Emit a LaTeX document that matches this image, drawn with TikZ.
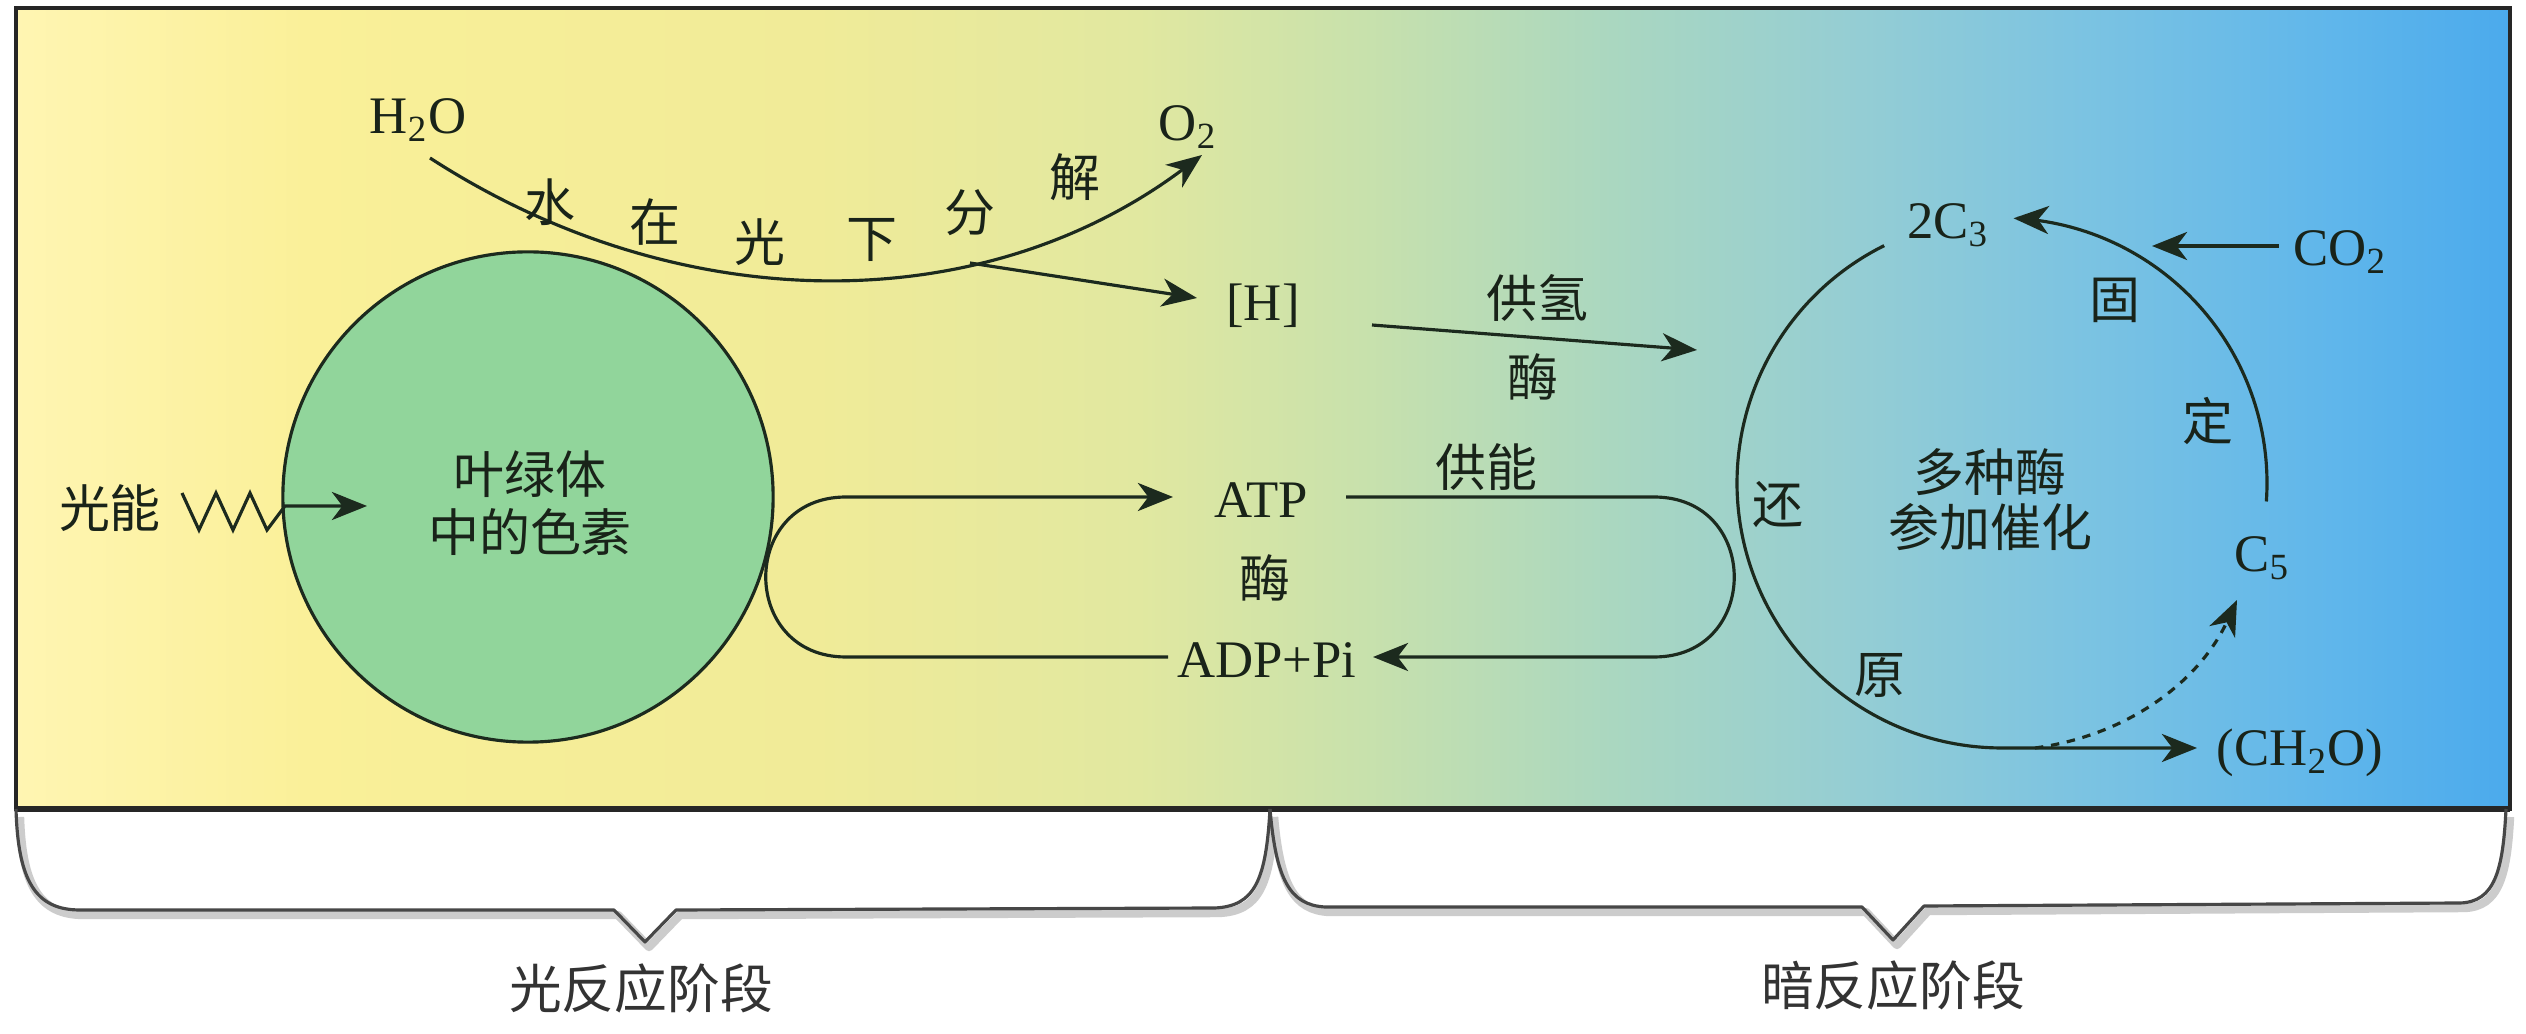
\documentclass[tikz,border=0pt]{standalone}
\usepackage{fontspec}
\setmainfont{Liberation Serif}
\newfontfamily\cjk{Noto Sans CJK SC}
\usetikzlibrary{arrows.meta}
\definecolor{ln}{RGB}{28,42,30}
\definecolor{txt}{RGB}{25,35,25}
\definecolor{g0}{RGB}{255,245,178}
\definecolor{g1}{RGB}{250,240,152}
\definecolor{g2}{RGB}{240,235,152}
\definecolor{g3}{RGB}{225,232,160}
\definecolor{g4}{RGB}{200,225,172}
\definecolor{g5}{RGB}{170,215,192}
\definecolor{g6}{RGB}{148,205,212}
\definecolor{g7}{RGB}{123,195,226}
\definecolor{g8}{RGB}{95,182,235}
\definecolor{g9}{RGB}{75,170,236}
\definecolor{leaf}{RGB}{145,213,155}
\pgfdeclarehorizontalshading{bggrad}{100bp}{color(0bp)=(g0); color(25bp)=(g0); color(31bp)=(g1); color(41bp)=(g2); color(47.5bp)=(g3); color(52bp)=(g4); color(57bp)=(g5); color(62bp)=(g6); color(66.5bp)=(g7); color(71.5bp)=(g8); color(75bp)=(g9); color(100bp)=(g9)}
\begin{document}
\begin{tikzpicture}[x=0.01cm,y=-0.01cm,
  cj/.style={font=\cjk\fontsize{14.5pt}{17pt}\selectfont,text=txt,inner sep=0pt},
  lt/.style={font=\fontsize{15pt}{17pt}\selectfont,text=txt,inner sep=0pt},
  stg/.style={font=\cjk\fontsize{15pt}{17pt}\selectfont,text=black!80,inner sep=0pt},
  conn/.style={draw=ln,line width=0.9pt},
  arr/.style={conn,-{Stealth[length=10pt,width=8pt,inset=3pt]}},
  brace/.style={draw=black!72,line width=0.9pt,line join=round},
  braceshadow/.style={draw=black!20,line width=2.4pt,line join=round}]
\useasboundingbox (0,0) rectangle (2526,1034);
\fill[white] (0,0) rectangle (2526,1034);
\shade[shading=bggrad] (16,8) rectangle (2510,809);
\draw[black!85,line width=1.2pt] (16,8) rectangle (2510,809);
\draw[black!85,line width=1.8pt] (16,809) -- (2510,809);

% chloroplast pigments
\node[circle,draw=ln,line width=0.9pt,fill=leaf,minimum size=4.9cm,inner sep=0pt] (chl) at (528,497) {};
\node[cj] (t1) at (530,474) {叶绿体};
\node[cj] (t2) at (530,532) {中的色素};

% light energy
\node[cj] (light) at (110,508) {光能};
\coordinate (zz) at (182,493);
\coordinate (lighttip) at (367,506);
\draw[arr,line join=miter] (zz) -- (199,530) -- (216,493) -- (233,530) -- (250,493) -- (267,530) -- (285,506) -- (lighttip);

% water splitting
\node[lt] (h2o) at (418,120) {H\textsubscript{2}O};
\node[lt] (o2) at (1188,127) {O\textsubscript{2}};
\coordinate (wstart) at (430,158);
\coordinate (o2tip) at (1202,155);
\coordinate (br) at (970,263);
\draw[arr] (wstart) .. controls (680,320) and (982,320) .. (o2tip);
\node[cj] at (550,202) {水};
\node[cj] at (655,222) {在};
\node[cj] at (760,242) {光};
\node[cj] at (872,240) {下};
\node[cj] at (970,213) {分};
\node[cj] at (1075,177) {解};
\node[lt] (hh) at (1263,306) {[H]};
\coordinate (htip) at (1197,298);
\draw[arr] (br) -- (htip);

% [H] to cycle
\coordinate (hs) at (1372,325);
\coordinate (he) at (1697,350);
\draw[arr] (hs) -- (he);
\node[cj] (gq) at (1537,298) {供氢};
\node[cj] (m1) at (1533,377) {酶};

% ATP / ADP
\node[lt] (atp) at (1261,500) {ATP};
\node[cj] (m2) at (1265,578) {酶};
\node[lt] (adp) at (1267,660) {ADP+Pi};
\node[cj] (gn) at (1486,467) {供能};
\coordinate (la) at (1168,657);
\coordinate (lb) at (1173,497);
\draw[arr] (la) -- (846,657) .. controls (739,657) and (739,497) .. (846,497) -- (lb);
\coordinate (ra) at (1346,497);
\coordinate (rb) at (1373,657);
\draw[arr] (ra) -- (1654,497) .. controls (1761,497) and (1761,657) .. (1654,657) -- (rb);

% Calvin cycle
\node[lt] (c3) at (1948,225) {2C\textsubscript{3}};
\node[lt] (c5) at (2262,558) {C\textsubscript{5}};
\node[lt] (co2) at (2340,252) {CO\textsubscript{2}};
\node[lt] (ch2o) at (2300,753) {(CH\textsubscript{2}O)};
\node[cj] at (2115,300) {固};
\node[cj] at (2208,421) {定};
\node[cj] at (1778,505) {还};
\node[cj] at (1880,676) {原};
\node[cj] (cat1) at (1990,472) {多种酶};
\node[cj] (cat2) at (1990,527) {参加催化};
\coordinate (co2tip) at (2152,246);
\draw[arr] (co2.west) ++(-14,-6) coordinate (co2s) -- (co2tip);
\coordinate (ch2otip) at (2197,748);
\draw[arr] plot[domain=243.6:90,samples=90,smooth] ({2002+265*cos(\x)},{483+265*sin(\x)}) -- (ch2otip);
\draw[arr] plot[domain=4:-87.5,samples=90,smooth] ({2002+265*cos(\x)},{483+265*sin(\x)});
\coordinate (ds) at (2035,748);
\coordinate (c5tip) at (2237,600);
\draw[arr,dash pattern=on 2.4pt off 2.2pt] (ds) .. controls (2130,735) and (2200,680) .. (c5tip);

% braces
\begin{scope}[shift={(4,5)}]
\draw[braceshadow] (16,812) .. controls (18,880) and (35,910) .. (80,910) -- (614,910) -- (645,942) -- (676,910) -- (1215,908) .. controls (1255,906) and (1266,880) .. (1270,812);
\draw[braceshadow] (1270,812) .. controls (1276,880) and (1290,905) .. (1325,907) -- (1862,907) -- (1893,940) -- (1924,906) -- (2460,903) .. controls (2495,902) and (2503,870) .. (2506,812);
\end{scope}
\draw[brace] (16,809) .. controls (18,880) and (35,910) .. (80,910) -- (614,910) -- (645,942) -- (676,910) -- (1215,908) .. controls (1255,906) and (1266,880) .. (1270,809);
\draw[brace] (1270,809) .. controls (1276,880) and (1290,905) .. (1325,907) -- (1862,907) -- (1893,940) -- (1924,906) -- (2460,903) .. controls (2495,902) and (2503,870) .. (2506,809);
\node[stg] (lr) at (641,988) {光反应阶段};
\node[stg] (dr) at (1893,985) {暗反应阶段};
\end{tikzpicture}
\end{document}
